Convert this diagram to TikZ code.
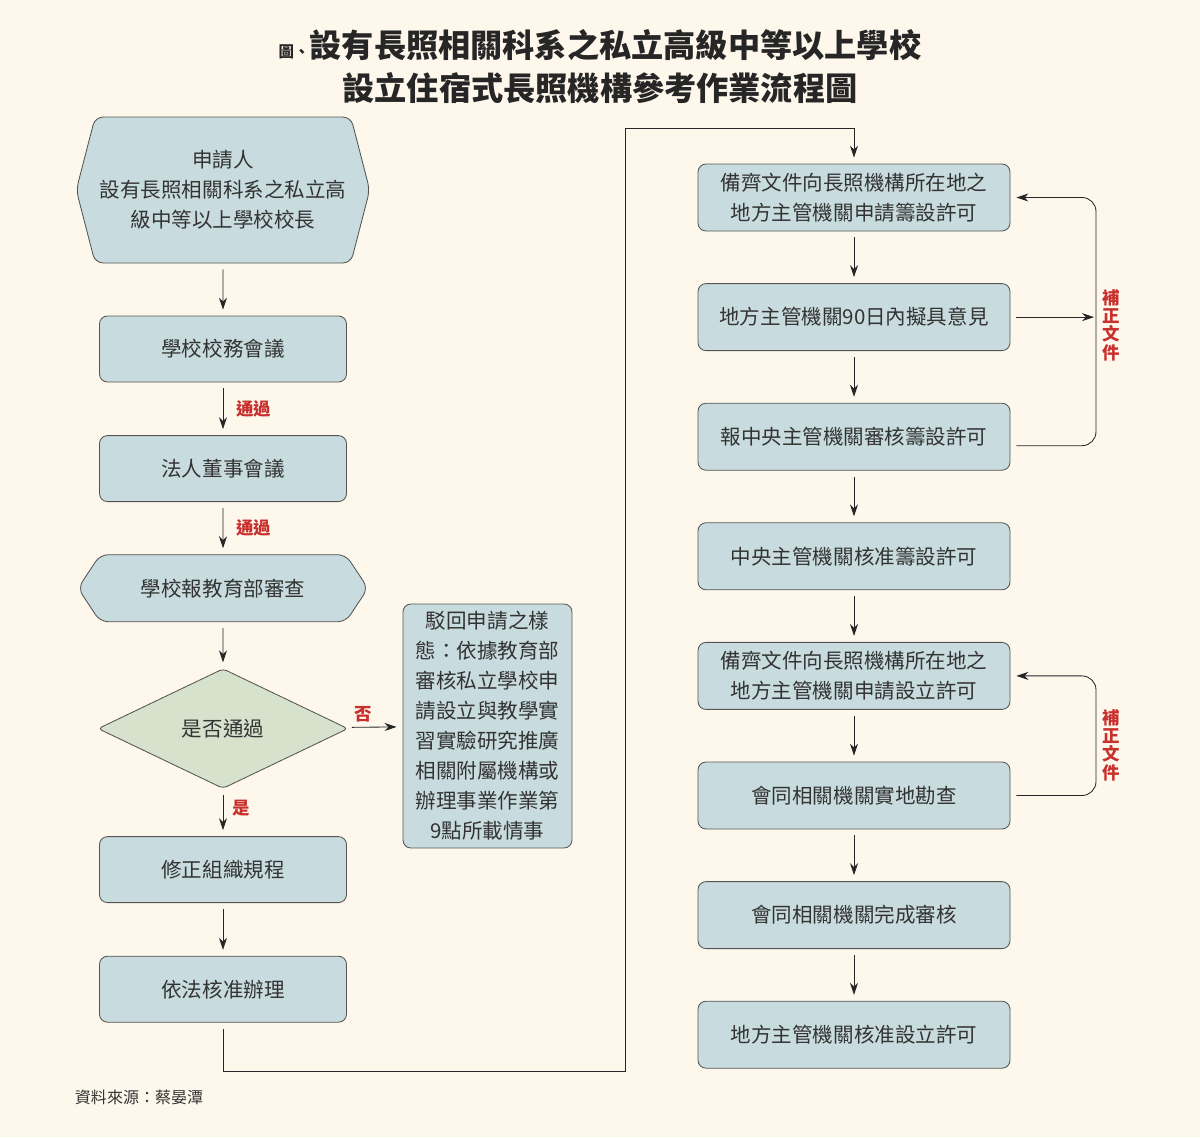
\documentclass[tikz,border=0pt]{standalone}
\usepackage{fontspec}
\setmainfont{Noto Sans CJK TC}
\usepackage{tikz}
\usetikzlibrary{shapes.geometric, shapes.symbols, arrows.meta}
\definecolor{paper}{HTML}{FEF8EC}
\definecolor{boxfill}{HTML}{C8DBDE}
\definecolor{decfill}{HTML}{D6E2CC}
\definecolor{edge}{HTML}{545454}
\definecolor{passred}{HTML}{C8302E}
\newcommand{\boxfont}{\fontsize{14.6}{21.3}\selectfont}
\tikzstyle{titletext} = [align=center, text=black!85, font=\fontsize{22.9}{30.6}\selectfont\bfseries]
\tikzstyle{proc} = [rectangle, rounded corners=0.2cm, minimum width=6.175cm, minimum height=1.65cm, text centered, align=center, draw=edge, line width=0.6pt, fill=boxfill, text=black!80, font=\boxfont]
\tikzstyle{wide} = [proc, minimum width=7.8cm, minimum height=1.675cm]
\tikzstyle{reject} = [proc, minimum width=4.225cm, minimum height=6.1cm]
\tikzstyle{hexa} = [signal, signal to=west and east, rounded corners=0.2cm, minimum width=7.25cm, align=center, draw=edge, line width=0.6pt, fill=boxfill, text=black!80, font=\boxfont]
\tikzstyle{decide} = [diamond, rounded corners=0.1cm, minimum width=6.25cm, minimum height=2.8cm, align=center, draw=edge, line width=0.6pt, fill=decfill, text=black!80, font=\boxfont]
\tikzstyle{redlbl} = [text=passred, font=\fontsize{12.4}{13}\selectfont\bfseries]
\tikzstyle{arrow} = [-{Stealth[length=0.3cm, width=0.2cm]}, draw=black!85, line width=0.6pt, shorten >=0.15cm, shorten <=0.15cm]

\begin{document}
\begin{tikzpicture}[node distance=2.99cm]
	\fill[paper] (0,0) rectangle (30,-28.425);
	\useasboundingbox (0,0) rectangle (30,-28.425);
	\node (title) [titletext] at (15,-1.6625) {{\fontsize{11}{11}\selectfont 圖、}設有長照相關科系之私立高級中等以上學校\\設立住宿式長照機構參考作業流程圖};
	
	% left column
	\node (start) [hexa, signal pointer angle=151, minimum height=3.65cm] at (5.575,-4.75) {申請人\\設有長照相關科系之私立高\\級中等以上學校校長};
	\node (meet) [proc, below of=start, yshift=-0.985cm] {學校校務會議};
	\node (board) [proc, below of=meet] {法人董事會議};
	\node (report) [hexa, signal pointer angle=113, minimum height=1.675cm, below of=board] {學校報教育部審查};
	\node (pass) [decide, below of=report, yshift=-0.52cm] {是否通過};
	\node (back) [reject] at (12.1875,-18.15) {駁回申請之樣\\態：依據教育部\\審核私立學校申\\請設立與教學實\\習實驗研究推廣\\相關附屬機構或\\辦理事業作業第\\9點所載情事};
	\node (revise) [proc, below of=pass, yshift=-0.535cm] {修正組織規程};
	\node (approve) [proc, below of=revise] {依法核准辦理};
	
	% right column
	\node (prep1) [wide] at (21.35,-4.9375) {備齊文件向長照機構所在地之\\地方主管機關申請籌設許可};
	\node (opinion) [wide, below of=prep1] {地方主管機關90日內擬具意見};
	\node (central) [wide, below of=opinion] {報中央主管機關審核籌設許可};
	\node (permit) [wide, below of=central] {中央主管機關核准籌設許可};
	\node (prep2) [wide, below of=permit] {備齊文件向長照機構所在地之\\地方主管機關申請設立許可};
	\node (inspect) [wide, below of=prep2] {會同相關機關實地勘查};
	\node (review) [wide, below of=inspect] {會同相關機關完成審核};
	\node (final) [wide, below of=review] {地方主管機關核准設立許可};
	
	\coordinate (turn1) at (15.625,-26.775);
	\coordinate (turn2) at (15.625,-3.2);
	\coordinate (loop1) at (27.4,-8);
	\coordinate (loop2) at (27.4,-18.5);
	
	\draw [arrow](start) -- (meet);
	\draw [arrow](meet) -- node[redlbl, right, xshift=0.2cm] {通過} (board);
	\draw [arrow](board) -- node[redlbl, right, xshift=0.2cm] {通過} (report);
	\draw [arrow](report) -- (pass);
	\draw [arrow](pass) -- node[redlbl, above, pos=0.3] {否} (back);
	\draw [arrow](pass) -- node[redlbl, right, pos=0.4, xshift=0.1cm] {是} (revise);
	\draw [arrow](revise) -- (approve);
	\draw [arrow](approve) |- (turn1) -- (turn2) -| (prep1);
	
	\draw [arrow](prep1) -- (opinion);
	\draw [arrow](opinion) -- (central);
	\draw [arrow](central) -- (permit);
	\draw [arrow](permit) -- (prep2);
	\draw [arrow](prep2) -- (inspect);
	\draw [arrow](inspect) -- (review);
	\draw [arrow](review) -- (final);
	
	% feedback loops
	\draw [arrow, rounded corners=0.35cm]([yshift=-0.225cm]central.east) -| (loop1) |- (prep1.east);
	\draw [arrow, shorten >=0.05cm](opinion.east) -- (opinion.east -| loop1);
	\draw [arrow, rounded corners=0.35cm](inspect.east) -| (loop2) |- (prep2.east);
	\node (fix1) [redlbl, align=center] at (27.775,-8.125) {補\\正\\文\\件};
	\node (fix2) [redlbl, align=center] at (27.775,-18.625) {補\\正\\文\\件};
	
	\node (source) [anchor=west, text=black!80, font=\fontsize{11.4}{12}\selectfont] at (1.75,-27.425) {資料來源：蔡晏潭};
\end{tikzpicture}
\end{document}
